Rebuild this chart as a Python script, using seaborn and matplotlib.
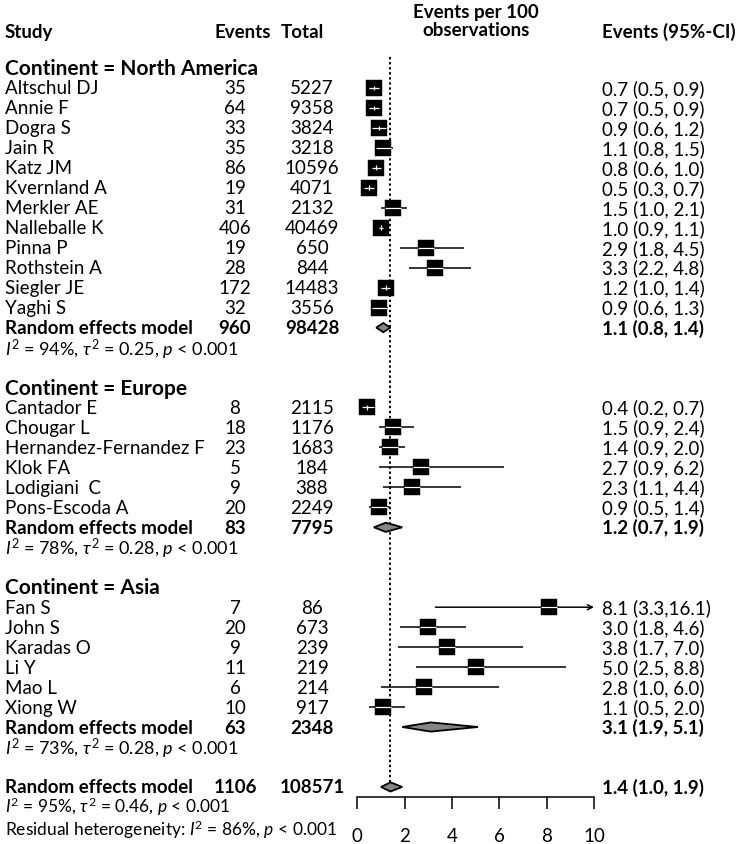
import numpy as np
import pandas as pd
import matplotlib
matplotlib.use("Agg")
import matplotlib.pyplot as plt
import matplotlib.transforms as mtransforms
import seaborn as sns

# Study level data (events per 100 observations, 95%-CI)
na_study = ["Altschul DJ", "Annie F", "Dogra S", "Jain R", "Katz JM", "Kvernland A",
            "Merkler AE", "Nalleballe K", "Pinna P", "Rothstein A", "Siegler JE", "Yaghi S"]
na_events = [35, 64, 33, 35, 86, 19, 31, 406, 19, 28, 172, 32]
na_total = [5227, 9358, 3824, 3218, 10596, 4071, 2132, 40469, 650, 844, 14483, 3556]
na_est = [0.7, 0.7, 0.9, 1.1, 0.8, 0.5, 1.5, 1.0, 2.9, 3.3, 1.2, 0.9]
na_lo = [0.5, 0.5, 0.6, 0.8, 0.6, 0.3, 1.0, 0.9, 1.8, 2.2, 1.0, 0.6]
na_hi = [0.9, 0.9, 1.2, 1.5, 1.0, 0.7, 2.1, 1.1, 4.5, 4.8, 1.4, 1.3]

eu_study = ["Cantador E", "Chougar L", "Hernandez-Fernandez F", "Klok FA",
            "Lodigiani  C", "Pons-Escoda A"]
eu_events = [8, 18, 23, 5, 9, 20]
eu_total = [2115, 1176, 1683, 184, 388, 2249]
eu_est = [0.4, 1.5, 1.4, 2.7, 2.3, 0.9]
eu_lo = [0.2, 0.9, 0.9, 0.9, 1.1, 0.5]
eu_hi = [0.7, 2.4, 2.0, 6.2, 4.4, 1.4]

as_study = ["Fan S", "John S", "Karadas O", "Li Y", "Mao L", "Xiong W"]
as_events = [7, 20, 9, 11, 6, 10]
as_total = [86, 673, 239, 219, 214, 917]
as_est = [8.1, 3.0, 3.8, 5.0, 2.8, 1.1]
as_lo = [3.3, 1.8, 1.7, 2.5, 1.0, 0.5]
as_hi = [16.1, 4.6, 7.0, 8.8, 6.0, 2.0]

# Subgroup random effects models
group_names = ["North America", "Europe", "Asia"]
group_events = [960, 83, 63]
group_total = [98428, 7795, 2348]
group_est = [1.1, 1.2, 3.1]
group_lo = [0.8, 0.7, 1.9]
group_hi = [1.4, 1.9, 5.1]
group_i2 = [94, 78, 73]
group_tau2 = [0.25, 0.28, 0.28]

# Overall random effects model
all_events = 1106
all_total = 108571
all_est, all_lo, all_hi = 1.4, 1.0, 1.9
all_i2, all_tau2 = 95, 0.46
resid_i2 = 86

x_ticks = [0, 2, 4, 6, 8, 10]

# ---------------------------------------------------------------
sns.set_theme(style="white")
plt.rcParams["font.family"] = ["Lato", "DejaVu Sans"]
plt.rcParams["mathtext.fontset"] = "custom"
plt.rcParams["mathtext.rm"] = "Lato"
plt.rcParams["mathtext.it"] = "Lato:italic"
plt.rcParams["mathtext.bf"] = "Lato:bold"
FS = 13.5

W, H = 750, 845
fig = plt.figure(figsize=(W / 100, H / 100), dpi=100)
x0_px, x1_px = 357.3, 594.0
row0_px, row_px = 69.0, 19.97
ax = fig.add_axes([x0_px / W, 0, (x1_px - x0_px) / W, 1])
ax.set_xlim(0, 10)
ax.set_ylim((H - row0_px) / row_px, -row0_px / row_px)
ax.patch.set_alpha(0)
trans = mtransforms.blended_transform_factory(fig.transFigure, ax.transData)


def put(xpx, y, s, ha="left", bold=False, size=FS):
    ax.text(xpx / W, y, s, transform=trans, ha=ha, va="center", fontsize=size,
            fontweight="bold" if bold else "normal", color="black")


def ci_text(e, l, h):
    # R style: upper limit padded to width 4, so "16.1" loses the space
    return f"{e:.1f} ({l:.1f},{h:>4.1f})"


COL_STUDY, COL_EV, COL_TOT, COL_CI = 5, 235, 312, 602

# headers
put(COL_STUDY, -1.85, "Study", bold=True)
put(243, -1.85, "Events", ha="center", bold=True)
put(302, -1.85, "Total", ha="center", bold=True)
put((x0_px + x1_px) / 2, -2.85, "Events per 100", ha="center", bold=True)
put((x0_px + x1_px) / 2, -1.95, "observations", ha="center", bold=True)
put(COL_CI, -1.85, "Events (95%-CI)", bold=True)

groups = [
    (na_study, na_events, na_total, na_est, na_lo, na_hi),
    (eu_study, eu_events, eu_total, eu_est, eu_lo, eu_hi),
    (as_study, as_events, as_total, as_est, as_lo, as_hi),
]

records = []
pooled = []
y = 0
for g, (st, ev, tot, est, lo, hi) in enumerate(groups):
    put(COL_STUDY, y, f"Continent = {group_names[g]}", bold=True, size=15)
    y += 1
    for i in range(len(st)):
        records.append(dict(study=st[i], events=ev[i], total=tot[i],
                            est=est[i], lo=lo[i], hi=hi[i], row=y))
        y += 1
    pooled.append((y, group_events[g], group_total[g], group_est[g],
                   group_lo[g], group_hi[g]))
    put(COL_STUDY, y, "Random effects model", bold=True)
    put(COL_EV, y, str(group_events[g]), ha="center", bold=True)
    put(COL_TOT, y, str(group_total[g]), ha="center", bold=True)
    put(COL_CI, y, ci_text(group_est[g], group_lo[g], group_hi[g]), bold=True)
    y += 1
    put(COL_STUDY, y + 0.05,
        rf"$I^2$ = {group_i2[g]}%, $\tau^2$ = {group_tau2[g]:.2f}, $p$ < 0.001", size=13)
    y += 2

df = pd.DataFrame(records)

# study rows: text columns
for _, r in df.iterrows():
    put(COL_STUDY, r.row, r.study)
    put(COL_EV, r.row, str(r.events), ha="center")
    put(COL_TOT, r.row, str(r.total), ha="center")
    put(COL_CI, r.row, ci_text(r.est, r.lo, r.hi))

# confidence intervals
box_px = 16
hw = (box_px / 2) / ((x1_px - x0_px) / 10)
inside = df[df.hi <= 10]
ax.hlines(inside.row, inside.lo, inside.hi, color="black", lw=1.1, zorder=2)
for _, r in df[df.hi > 10].iterrows():
    ax.annotate("", xy=(10, r.row), xytext=(r.lo, r.row),
                arrowprops=dict(arrowstyle="->", lw=1.1, color="black",
                                shrinkA=0, shrinkB=0, mutation_scale=9))

# squares
box_pt = box_px * 72 / 100
sns.scatterplot(data=df, x="est", y="row", marker="s", s=box_pt ** 2,
                color="black", edgecolor="black", linewidth=0.3, ax=ax,
                legend=False, zorder=3)
# white CI segment drawn over the square, with a small tick where the CI fits inside
ax.hlines(df.row, np.maximum(df.lo, df.est - hw), np.minimum(df.hi, df.est + hw),
          color="white", lw=0.9, zorder=4)
fit = df[(df.lo >= df.est - hw) & (df.hi <= df.est + hw)]
ax.vlines(fit.est, fit.row - 0.12, fit.row + 0.12, color="white", lw=0.9, zorder=4)


def diamond(yy, e, l, h):
    dh = 0.23
    ax.fill([l, e, h, e, l], [yy, yy - dh, yy, yy + dh, yy], facecolor="#858585",
            edgecolor="black", lw=1.3, zorder=3)


for (yy, ev, tot, e, l, h) in pooled:
    diamond(yy, e, l, h)

# overall model
put(COL_STUDY, y, "Random effects model", bold=True)
put(COL_EV, y, str(all_events), ha="center", bold=True)
put(COL_TOT, y, str(all_total), ha="center", bold=True)
put(COL_CI, y, ci_text(all_est, all_lo, all_hi), bold=True)
diamond(y, all_est, all_lo, all_hi)
put(COL_STUDY, y + 0.97, rf"$I^2$ = {all_i2}%, $\tau^2$ = {all_tau2:.2f}, $p$ < 0.001",
    size=12.5)
put(COL_STUDY, y + 2.1, rf"Residual heterogeneity: $I^2$ = {resid_i2}%, $p$ < 0.001",
    size=12.5)

# reference line at the overall estimate
ax.vlines(all_est, -0.55, y - 0.25, color="black", lw=1.4,
          linestyles=(0, (1.2, 1.4)), zorder=1)

# x axis
for s in ["top", "left", "right"]:
    ax.spines[s].set_visible(False)
ax.spines["bottom"].set_position(("data", y + 0.5))
ax.spines["bottom"].set_bounds(0, 10)
ax.spines["bottom"].set_color("black")
ax.spines["bottom"].set_linewidth(1.1)
ax.set_xticks(x_ticks)
ax.set_xticklabels([str(t) for t in x_ticks])
ax.tick_params(axis="x", direction="out", length=8.6, width=1.1, pad=13,
               labelsize=FS, colors="black", bottom=True)
ax.set_yticks([])
ax.set_xlabel("")
ax.set_ylabel("")
ax.grid(False)

fig.savefig("out.png", dpi=100)
